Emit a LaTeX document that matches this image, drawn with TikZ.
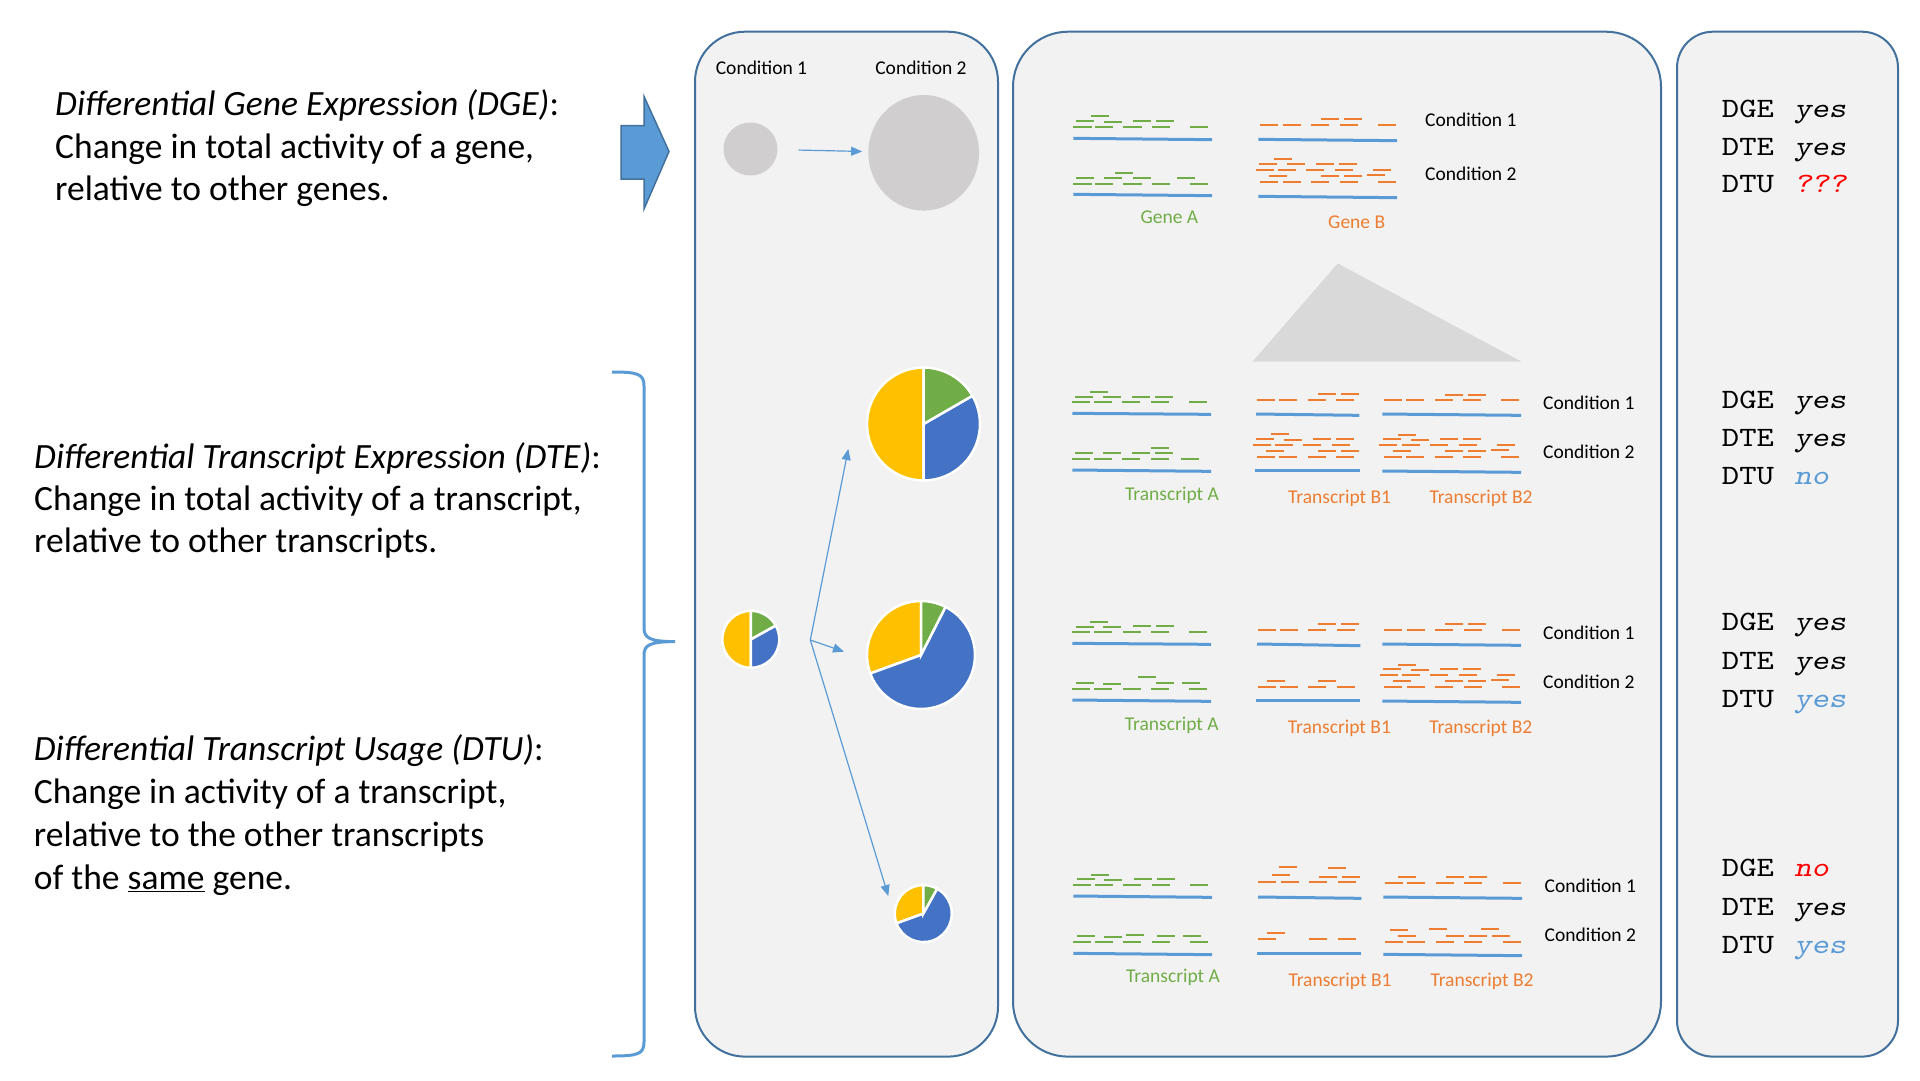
\documentclass[tikz,border=0pt]{standalone}
\usepackage{fontspec}
\setmainfont{Carlito}
\setmonofont{lmmono10-regular.otf}[ItalicFont=lmmonoslant10-regular.otf, FakeStretch=1.18]
\usetikzlibrary{arrows.meta,shapes.geometric}
\definecolor{boxfill}{HTML}{F2F2F2}
\definecolor{boxline}{HTML}{41719C}
\definecolor{acc}{HTML}{5B9BD5}
\definecolor{gr}{HTML}{70AD47}
\definecolor{og}{HTML}{ED7D31}
\definecolor{pb}{HTML}{4472C4}
\definecolor{py}{HTML}{FFC000}
\definecolor{cg}{HTML}{D0CECE}
\definecolor{tg}{HTML}{D9D9D9}
\definecolor{rd}{HTML}{FF0000}
\newcommand\bigtxt{\fontsize{35.5}{43}\selectfont}
\newcommand\smalltxt{\fontsize{19.5}{23}\selectfont}
\newcommand\monotxt{\fontsize{28}{37}\selectfont\ttfamily}
\newcommand\rrow[3]{\foreach \s in {#3} \draw[#1] (\s,#2) -- ++(55,0);}
\newcommand\piesector[4]{\filldraw[fill=#1, draw=white, line width=2.5pt] (0,0) -- (#2:#4) arc (#2:#3:#4) -- cycle;}
\begin{document}
\begin{tikzpicture}[x=1pt,y=-1pt,
  txt/.style={anchor=base west, inner sep=0pt, font=\bigtxt},
  lbl/.style={anchor=base, inner sep=0pt, font=\smalltxt},
  lblw/.style={anchor=base west, inner sep=0pt, font=\smalltxt},
  res/.style={anchor=base west, inner sep=0pt, font=\monotxt},
  panel/.style={draw=boxline, fill=boxfill, line width=2pt},
  gline/.style={acc, line width=3pt},
  rg/.style={gr, line width=1.8pt},
  ro/.style={og, line width=1.8pt},
  pointer/.style={acc, line width=1.2pt, -{Triangle[length=11pt,width=9pt]}},
  gcirc/.style={ellipse, fill=cg, inner sep=0pt}
]
\fill[white] (0,0) rectangle (1920,1080);
\useasboundingbox (0,0) rectangle (1920,1080);

% panels
\draw[panel, rounded corners=50pt] (695,31.7) rectangle (998,1056.6);
\draw[panel, rounded corners=55pt] (1013,31.7) rectangle (1661,1056.6);
\draw[panel, rounded corners=36pt] (1677,31.7) rectangle (1898,1056.6);

% block arrow
\filldraw[fill=acc, draw=boxline, line width=1.5pt]
  (621,125.7) -- (644,125.7) -- (644,96.4) -- (669,151.5) -- (644,209) -- (644,179) -- (621,179) -- cycle;

% brace
\draw[acc, line width=3pt]
  (612,372) .. controls (638,372) and (644,374) .. (644,386) -- (644,628)
  .. controls (644,638) and (650,641.6) .. (675,641.6)
  .. controls (650,641.6) and (644,645) .. (644,655) -- (644,1042)
  .. controls (644,1054) and (638,1056) .. (612,1056);

% left texts
\node[txt] (dge1) at (55,115) {\textit{Differential Gene Expression (DGE)}:};
\node[txt] (dge2) at (55,158) {Change in total activity of a gene,};
\node[txt] (dge3) at (55,200) {relative to other genes.};
\node[txt] (dte1) at (34,468) {\textit{Differential Transcript Expression (DTE)}:};
\node[txt] (dte2) at (34,510) {Change in total activity of a transcript,};
\node[txt] (dte3) at (34,552) {relative to other transcripts.};
\node[txt] (dtu1) at (33.7,760) {\textit{Differential Transcript Usage (DTU)}:};
\node[txt] (dtu2) at (33.7,803) {Change in activity of a transcript,};
\node[txt] (dtu3) at (33.7,846.5) {relative to the other transcripts};
\node[txt] (dtu4) at (33.7,889.6) {of the \underline{same} gene.};

% left panel
\node[lbl] (lc1) at (761.5,74) {Condition 1};
\node[lbl] (lc2) at (921,74) {Condition 2};
\node[gcirc, minimum width=54pt, minimum height=53pt] (c1) at (750.5,149) {};
\node[gcirc, minimum width=110.7pt, minimum height=115.6pt] (c2) at (923.7,152.8) {};
\draw[pointer, shorten <=21pt, shorten >=6pt] (c1) -- (c2);

% pies
\begin{scope}[shift={(750.8,639.3)}, yscale=-1]
  \piesector{py}{90}{270}{28.5}
  \piesector{pb}{-90}{29}{28.5}
  \piesector{gr}{29}{90}{28.5}
\end{scope}
\begin{scope}[shift={(923.5,424)}, yscale=-1]
  \piesector{py}{90}{270}{56.5}
  \piesector{pb}{-90}{30}{56.5}
  \piesector{gr}{30}{90}{56.5}
\end{scope}
\begin{scope}[shift={(921,655)}, yscale=-1]
  \piesector{py}{90}{200}{54}
  \piesector{pb}{-160}{63}{54}
  \piesector{gr}{63}{90}{54}
\end{scope}
\begin{scope}[shift={(923.3,913.6)}, yscale=-1]
  \piesector{py}{90}{200}{28.5}
  \piesector{pb}{-160}{61}{28.5}
  \piesector{gr}{61}{90}{28.5}
\end{scope}
\coordinate (br) at (810.3,640);
\coordinate (pT) at (848.3,449);
\coordinate (pM) at (844,651.7);
\coordinate (pL) at (888.3,896);
\draw[pointer] (br) -- (pT);
\draw[pointer] (br) -- (pM);
\draw[pointer] (br) -- (pL);

% triangle
\fill[tg] (1337.7,263.5) -- (1521.4,361.6) -- (1252.6,361.6) -- cycle;

% gene section
\begin{scope}[shift={(1060,100)}, scale=1/3]
  \draw[gline] (40,115) -- (456,119);
  \rrow{rg}{80}{40,105,190,276,390}
  \rrow{rg}{63}{48,219,288}
  \rrow{rg}{66}{132}
  \rrow{rg}{47}{93}
  \draw[gline] (40,283) -- (456,287);
  \rrow{rg}{252}{40,105,190,276,390}
  \rrow{rg}{234}{48,132,219,351}
  \rrow{rg}{218}{165}
  \draw[gline] (595,118) -- (1011,122);
  \rrow{ro}{74}{600,669,753,840,954}
  \rrow{ro}{57}{783,852}
  \draw[gline] (595,289) -- (1011,293);
  \rrow{ro}{245}{600,669,753,840,954}
  \rrow{ro}{227}{627,783,852}
  \rrow{ro}{224}{921}
  \rrow{ro}{209}{588,654,738,825,939}
  \rrow{ro}{191}{597,681,768,837}
  \rrow{ro}{176}{642}
\end{scope}
\node[lblw] (g1) at (1425,126.6) {Condition 1};
\node[lblw] (g2) at (1425,180.6) {Condition 2};
\node[lbl, text=gr] (ga) at (1169.4,223.8) {Gene A};
\node[lbl, text=og] (gb) at (1356.7,228) {Gene B};

% transcript section 1
\begin{scope}[shift={(1060,380)}, scale=1/3]
  \draw[gline] (37,100) -- (453,103);
  \rrow{rg}{66}{36,102,186,273,387}
  \rrow{rg}{50}{45,129,216,285}
  \rrow{rg}{35}{90}
  \draw[gline] (37,270) -- (453,274);
  \rrow{rg}{237}{36,102,186,273,363}
  \rrow{rg}{220}{45,129}
  \rrow{rg}{218}{216,285}
  \rrow{rg}{203}{273}
  \draw[gline] (588,102) -- (898,106);
  \rrow{ro}{60}{591,657,744,828}
  \rrow{ro}{42}{774,843}
  \draw[gline] (585,271) -- (900,271);
  \rrow{ro}{231}{591,657,744,828}
  \rrow{ro}{213}{618,774,843}
  \rrow{ro}{195}{579,645,729,816}
  \rrow{ro}{177}{588,759,828}
  \rrow{ro}{180}{672}
  \rrow{ro}{161}{633}
  \draw[gline] (967,102) -- (1383,106);
  \rrow{ro}{60}{972,1038,1125,1209,1323}
  \rrow{ro}{45}{1155,1224}
  \draw[gline] (967,273) -- (1383,277);
  \rrow{ro}{231}{972,1038,1125,1209,1323}
  \rrow{ro}{213}{999,1155,1224}
  \rrow{ro}{210}{1293}
  \rrow{ro}{195}{957,1026,1110,1197,1311}
  \rrow{ro}{177}{969,1140,1209}
  \rrow{ro}{180}{1053}
  \rrow{ro}{164}{1014}
\end{scope}
\node[lblw] (s1c1) at (1543,409) {Condition 1};
\node[lblw] (s1c2) at (1543,458) {Condition 2};
\node[lbl, text=gr] (s1a) at (1172,500) {Transcript A};
\node[lbl, text=og] (s1b1) at (1339.6,503) {Transcript B1};
\node[lbl, text=og] (s1b2) at (1481,503) {Transcript B2};

% transcript section 2
\begin{scope}[shift={(1060,610)}, scale=1/3]
  \draw[gline] (37,100) -- (453,103);
  \rrow{rg}{66}{36,102,189,273,387}
  \rrow{rg}{50}{48,129}
  \rrow{rg}{47}{219,288}
  \rrow{rg}{35}{90}
  \draw[gline] (37,270) -- (453,274);
  \rrow{rg}{237}{36,102,189,273,387}
  \rrow{rg}{218}{48,288,366}
  \rrow{rg}{221}{129}
  \rrow{rg}{200}{234}
  \draw[gline] (591,102) -- (901,107);
  \rrow{ro}{60}{594,660,744,831}
  \rrow{ro}{42}{774,843}
  \draw[gline] (588,271) -- (900,271);
  \rrow{ro}{231}{594,660,744,831}
  \rrow{ro}{213}{621,774}
  \draw[gline] (967,102) -- (1383,106);
  \rrow{ro}{60}{972,1041,1125,1212,1326}
  \rrow{ro}{42}{1155,1224}
  \draw[gline] (967,273) -- (1383,277);
  \rrow{ro}{231}{972,1041,1125,1212,1326}
  \rrow{ro}{213}{999,1155,1224}
  \rrow{ro}{210}{1293}
  \rrow{ro}{195}{960,1026,1110,1197,1311}
  \rrow{ro}{177}{969,1140,1209}
  \rrow{ro}{180}{1053}
  \rrow{ro}{164}{1014}
\end{scope}
\node[lblw] (s2c1) at (1543,639) {Condition 1};
\node[lblw] (s2c2) at (1543,688.5) {Condition 2};
\node[lbl, text=gr] (s2a) at (1171.8,730) {Transcript A};
\node[lbl, text=og] (s2b1) at (1339.4,733) {Transcript B1};
\node[lbl, text=og] (s2b2) at (1480.8,733) {Transcript B2};

% transcript section 3
\begin{scope}[shift={(1060,860)}, scale=1/3]
  \draw[gline] (40,108) -- (456,112);
  \rrow{rg}{74}{39,105,189,276,390}
  \rrow{rg}{57}{51,222,291}
  \rrow{rg}{60}{132}
  \rrow{rg}{44}{93}
  \draw[gline] (40,280) -- (456,284);
  \rrow{rg}{245}{39,105,189,276,390}
  \rrow{rg}{227}{51,291,369}
  \rrow{rg}{230}{132}
  \rrow{rg}{224}{198}
  \draw[gline] (594,111) -- (904,115);
  \rrow{ro}{66}{594,663,747,834}
  \rrow{ro}{50}{777,846}
  \rrow{ro}{44}{636}
  \rrow{ro}{23}{804}
  \rrow{ro}{20}{657}
  \draw[gline] (591,281) -- (903,281);
  \rrow{ro}{236}{594,747,834}
  \rrow{ro}{218}{621}
  \draw[gline] (970,111) -- (1386,115);
  \rrow{ro}{68}{975,1041,1128,1212,1329}
  \rrow{ro}{50}{1014,1158,1227}
  \draw[gline] (970,283) -- (1386,287);
  \rrow{ro}{245}{975,1041,1128,1212,1329}
  \rrow{ro}{227}{1014,1158,1227,1296}
  \rrow{ro}{209}{990}
  \rrow{ro}{206}{1107,1263}
\end{scope}
\node[lblw] (s3c1) at (1544.5,892) {Condition 1};
\node[lblw] (s3c2) at (1544.5,941) {Condition 2};
\node[lbl, text=gr] (s3a) at (1173,982.5) {Transcript A};
\node[lbl, text=og] (s3b1) at (1340,986) {Transcript B1};
\node[lbl, text=og] (s3b2) at (1482,986) {Transcript B2};

% results
\node[res] (r0a) at (1721.7,117.3) {DGE \hspace{3pt}\textit{yes}};
\node[res] (r0b) at (1721.7,155.3) {DTE \hspace{3pt}\textit{yes}};
\node[res] (r0c) at (1721.7,192.3) {DTU \hspace{3pt}\textcolor{rd}{\textit{???}}};
\node[res] (r1a) at (1721.7,408) {DGE \hspace{3pt}\textit{yes}};
\node[res] (r1b) at (1721.7,446.7) {DTE \hspace{3pt}\textit{yes}};
\node[res] (r1c) at (1721.7,484.6) {DTU \hspace{3pt}\textcolor{acc}{\textit{no}}};
\node[res] (r2a) at (1721.7,630) {DGE \hspace{3pt}\textit{yes}};
\node[res] (r2b) at (1721.7,669) {DTE \hspace{3pt}\textit{yes}};
\node[res] (r2c) at (1721.7,707.7) {DTU \hspace{3pt}\textcolor{acc}{\textit{yes}}};
\node[res] (r3a) at (1721.7,876.8) {DGE \hspace{3pt}\textcolor{rd}{\textit{no}}};
\node[res] (r3b) at (1721.7,915) {DTE \hspace{3pt}\textit{yes}};
\node[res] (r3c) at (1721.7,953) {DTU \hspace{3pt}\textcolor{acc}{\textit{yes}}};
\end{tikzpicture}
\end{document}
